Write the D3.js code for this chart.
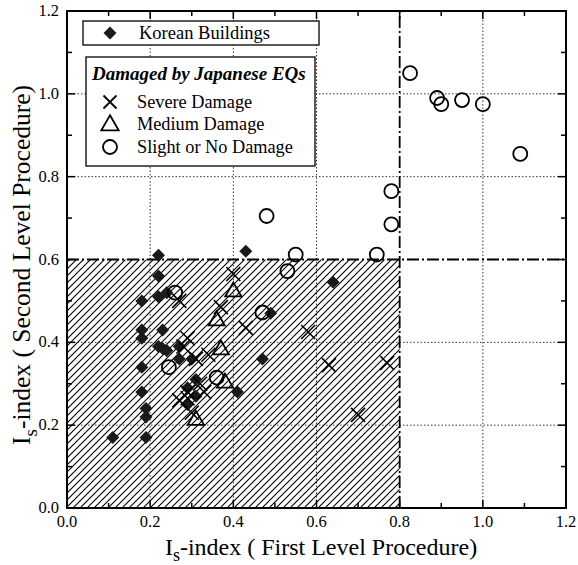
<!DOCTYPE html>
<meta charset="utf-8" />
<html>
  <head>
    <script src="https://d3js.org/d3.v7.min.js"></script>
    <style>
      body {
        margin: 0;
        background-color: white;
      }
      svg {
        font-family: "Liberation Serif", "Times New Roman", "DejaVu Serif", serif;
      }
    </style>
  </head>
  <body>
    <div id="chart"></div>
  </body>

  <script>
    // values: [first level, second level]
    const korean = [
      [0.11, 0.17], [0.18, 0.50], [0.18, 0.43], [0.18, 0.41], [0.18, 0.34],
      [0.18, 0.28], [0.19, 0.24], [0.19, 0.22], [0.19, 0.17], [0.22, 0.61],
      [0.22, 0.56], [0.22, 0.51], [0.24, 0.52], [0.23, 0.43], [0.22, 0.39],
      [0.23, 0.385], [0.24, 0.38], [0.27, 0.39], [0.30, 0.36], [0.31, 0.31],
      [0.29, 0.29], [0.29, 0.25], [0.31, 0.27], [0.41, 0.28], [0.47, 0.36],
      [0.49, 0.47], [0.64, 0.545], [0.43, 0.62], [0.27, 0.36]
    ];
    const severe = [
      [0.40, 0.565], [0.37, 0.485], [0.43, 0.435], [0.58, 0.425], [0.63, 0.345],
      [0.77, 0.35], [0.70, 0.225], [0.29, 0.41], [0.27, 0.50], [0.34, 0.37],
      [0.28, 0.39], [0.29, 0.28], [0.32, 0.30], [0.27, 0.26], [0.29, 0.265],
      [0.33, 0.28], [0.31, 0.36], [0.30, 0.23]
    ];
    const medium = [
      [0.40, 0.525], [0.36, 0.455], [0.37, 0.385], [0.31, 0.215], [0.38, 0.305]
    ];
    const slight = [
      [0.825, 1.05], [0.89, 0.99], [0.90, 0.975], [0.95, 0.985], [1.00, 0.975],
      [1.09, 0.855], [0.78, 0.765], [0.78, 0.685], [0.745, 0.612], [0.48, 0.705],
      [0.55, 0.612], [0.53, 0.572], [0.47, 0.472], [0.26, 0.52], [0.245, 0.34],
      [0.36, 0.315]
    ];
    const majorTicks = [0, 0.2, 0.4, 0.6, 0.8, 1.0, 1.2];
    const minorTicks = [0.1, 0.3, 0.5, 0.7, 0.9, 1.1];
    const gridX = [0.2, 0.4, 0.6, 1.0];
    const gridY = [0.2, 0.4, 0.8, 1.0];
    const limitX = 0.8;
    const limitY = 0.6;

    const width = 578;
    const height = 565;
    const margin = ({top: 11, right: 12, bottom: 57, left: 67});
    const serif = '"Liberation Serif", "Times New Roman", serif';

    const svg = d3.select('#chart').append("svg")
      .attr("width", width)
      .attr("height", height)
      .attr("font-family", serif);

    const x = d3.scaleLinear()
      .domain([0, 1.2])
      .range([margin.left, width - margin.right]);
    const y = d3.scaleLinear()
      .domain([0, 1.2])
      .range([height - margin.bottom, margin.top]);

    // hatch pattern for the low-capacity zone
    const defs = svg.append("defs");
    const pat = defs.append("pattern")
      .attr("id", "hatch")
      .attr("patternUnits", "userSpaceOnUse")
      .attr("width", 7)
      .attr("height", 7);
    pat.append("path")
      .attr("d", "M-1,8 L8,-1 M-1,1 L1,-1 M6,8 L8,6")
      .attr("stroke", "black")
      .attr("stroke-width", 1.1);

    svg.append("rect")
      .attr("x", x(0))
      .attr("y", y(limitY))
      .attr("width", x(limitX) - x(0))
      .attr("height", y(0) - y(limitY))
      .attr("fill", "url(#hatch)");

    // dotted grid
    svg.append("g")
      .selectAll("line")
      .data(gridX)
      .join("line")
        .attr("x1", d => x(d)).attr("x2", d => x(d))
        .attr("y1", y(0)).attr("y2", y(1.2))
        .attr("stroke", "#333")
        .attr("stroke-width", 1)
        .attr("stroke-dasharray", "1.5,2");
    svg.append("g")
      .selectAll("line")
      .data(gridY)
      .join("line")
        .attr("y1", d => y(d)).attr("y2", d => y(d))
        .attr("x1", x(0)).attr("x2", x(1.2))
        .attr("stroke", "#333")
        .attr("stroke-width", 1)
        .attr("stroke-dasharray", "1.5,2");

    // dash-dot limit lines
    svg.append("line")
      .attr("x1", x(limitX)).attr("x2", x(limitX))
      .attr("y1", y(0)).attr("y2", y(1.2))
      .attr("stroke", "black").attr("stroke-width", 1.8)
      .attr("stroke-dasharray", "12,3,2,3");
    svg.append("line")
      .attr("x1", x(0)).attr("x2", x(1.2))
      .attr("y1", y(limitY)).attr("y2", y(limitY))
      .attr("stroke", "black").attr("stroke-width", 1.8)
      .attr("stroke-dasharray", "12,3,2,3");

    // frame and inward ticks
    svg.append("rect")
      .attr("x", x(0)).attr("y", y(1.2))
      .attr("width", x(1.2) - x(0)).attr("height", y(0) - y(1.2))
      .attr("fill", "none").attr("stroke", "black").attr("stroke-width", 2);

    const tickG = svg.append("g").attr("stroke", "black").attr("stroke-width", 1.5);
    const addTicks = (vals, len) => {
      vals.forEach(v => {
        tickG.append("line").attr("x1", x(v)).attr("x2", x(v)).attr("y1", y(0)).attr("y2", y(0) - len);
        tickG.append("line").attr("x1", x(v)).attr("x2", x(v)).attr("y1", y(1.2)).attr("y2", y(1.2) + len);
        tickG.append("line").attr("y1", y(v)).attr("y2", y(v)).attr("x1", x(0)).attr("x2", x(0) + len);
        tickG.append("line").attr("y1", y(v)).attr("y2", y(v)).attr("x1", x(1.2)).attr("x2", x(1.2) - len);
      });
    };
    addTicks(majorTicks, 8);
    addTicks(minorTicks, 5);

    // tick labels
    svg.append("g")
      .selectAll("text")
      .data(majorTicks)
      .join("text")
        .attr("x", d => x(d))
        .attr("y", y(0) + 19)
        .attr("text-anchor", "middle")
        .attr("font-size", 16.5)
        .text(d => d.toFixed(1));
    svg.append("g")
      .selectAll("text")
      .data(majorTicks)
      .join("text")
        .attr("x", x(0) - 8)
        .attr("y", d => y(d) + 5)
        .attr("text-anchor", "end")
        .attr("font-size", 16.5)
        .text(d => d.toFixed(1));

    // axis titles
    const xt = svg.append("text")
      .attr("x", 321)
      .attr("y", 555)
      .attr("text-anchor", "middle")
      .attr("font-size", 24);
    xt.append("tspan").text("I");
    xt.append("tspan").attr("dy", 6).attr("font-size", 18).text("s");
    xt.append("tspan").attr("dy", -6).text("-index ( First Level Procedure)");

    const yt = svg.append("text")
      .attr("transform", `translate(30,${265}) rotate(-90)`)
      .attr("text-anchor", "middle")
      .attr("font-size", 25.5);
    yt.append("tspan").text("I");
    yt.append("tspan").attr("dy", 7).attr("font-size", 19).text("s");
    yt.append("tspan").attr("dy", -7).text("-index ( Second Level Procedure)");

    // markers
    const diamond = d3.symbol().type(d3.symbolSquare).size(85);
    const tri = s => `M0,${-s * 0.62} L${s * 0.62},${s * 0.45} L${-s * 0.62},${s * 0.45} Z`;
    const cross = s => `M${-s},${-s} L${s},${s} M${-s},${s} L${s},${-s}`;

    svg.append("g")
      .selectAll("path")
      .data(korean)
      .join("path")
        .attr("transform", d => `translate(${x(d[0])},${y(d[1])}) rotate(45)`)
        .attr("d", diamond)
        .attr("fill", "#1a1a1a");

    svg.append("g")
      .selectAll("path")
      .data(severe)
      .join("path")
        .attr("transform", d => `translate(${x(d[0])},${y(d[1])})`)
        .attr("d", cross(7))
        .attr("stroke", "black")
        .attr("stroke-width", 1.6)
        .attr("fill", "none");

    svg.append("g")
      .selectAll("path")
      .data(medium)
      .join("path")
        .attr("transform", d => `translate(${x(d[0])},${y(d[1])})`)
        .attr("d", tri(13))
        .attr("stroke", "black")
        .attr("stroke-width", 1.8)
        .attr("fill", "none");

    svg.append("g")
      .selectAll("circle")
      .data(slight)
      .join("circle")
        .attr("cx", d => x(d[0]))
        .attr("cy", d => y(d[1]))
        .attr("r", 7)
        .attr("stroke", "black")
        .attr("stroke-width", 1.8)
        .attr("fill", "none");

    // legends
    const lg1 = svg.append("g");
    lg1.append("rect")
      .attr("x", 83).attr("y", 21).attr("width", 236).attr("height", 24)
      .attr("fill", "white").attr("stroke", "black").attr("stroke-width", 1.3);
    lg1.append("path")
      .attr("transform", "translate(110,33) rotate(45)")
      .attr("d", diamond)
      .attr("fill", "#1a1a1a");
    lg1.append("text")
      .attr("x", 139).attr("y", 39)
      .attr("font-size", 18.5)
      .text("Korean Buildings");

    const lg2 = svg.append("g");
    lg2.append("rect")
      .attr("x", 86).attr("y", 57).attr("width", 229).attr("height", 109)
      .attr("fill", "white").attr("stroke", "black").attr("stroke-width", 1.3);
    lg2.append("text")
      .attr("x", 92).attr("y", 80)
      .attr("font-size", 19)
      .attr("font-weight", "bold")
      .attr("font-style", "italic")
      .text("Damaged by Japanese EQs");
    const items = [
      {label: "Severe Damage", yy: 102},
      {label: "Medium Damage", yy: 124},
      {label: "Slight or No Damage", yy: 147}
    ];
    lg2.append("path").attr("transform", `translate(110,${items[0].yy})`)
      .attr("d", cross(6.5)).attr("stroke", "black").attr("stroke-width", 1.8).attr("fill", "none");
    lg2.append("path").attr("transform", `translate(110,${items[1].yy})`)
      .attr("d", tri(14)).attr("stroke", "black").attr("stroke-width", 1.8).attr("fill", "none");
    lg2.append("circle").attr("cx", 110).attr("cy", items[2].yy).attr("r", 7)
      .attr("stroke", "black").attr("stroke-width", 1.8).attr("fill", "none");
    lg2.selectAll("text.item")
      .data(items)
      .join("text")
        .attr("class", "item")
        .attr("x", 137)
        .attr("y", d => d.yy + 6)
        .attr("font-size", 18.3)
        .text(d => d.label);
  </script>
</html>
